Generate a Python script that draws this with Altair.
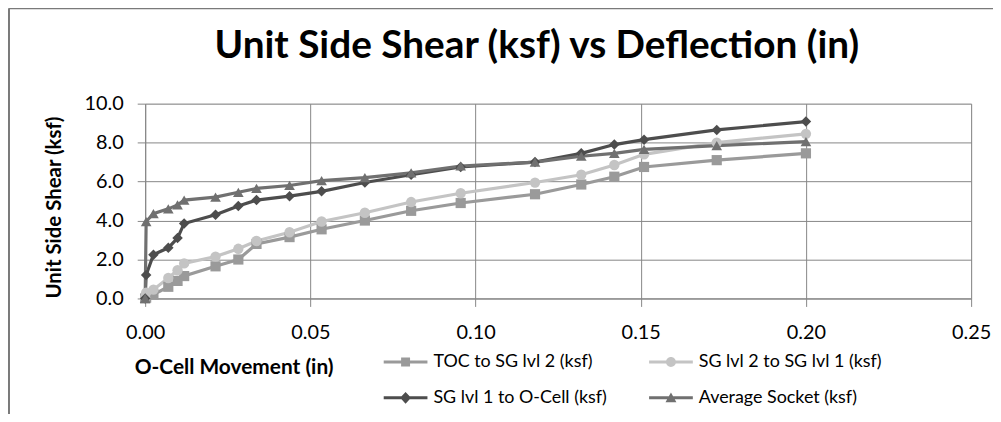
import altair as alt
import pandas as pd

# ---- data ----
movement = [0.0, 0.0003, 0.0025, 0.007, 0.0098, 0.0118, 0.0213, 0.0282, 0.0337, 0.0437,
            0.0534, 0.0665, 0.0805, 0.0955, 0.118, 0.132, 0.142, 0.151, 0.173, 0.200]
toc_sg2 = [0.0, 0.05, 0.2, 0.6, 0.9, 1.15, 1.65, 2.0, 2.8, 3.15,
           3.55, 4.0, 4.5, 4.9, 5.35, 5.85, 6.25, 6.75, 7.1, 7.45]
sg2_sg1 = [0.05, 0.3, 0.45, 1.05, 1.45, 1.8, 2.15, 2.55, 2.95, 3.4,
           3.95, 4.4, 4.95, 5.4, 5.95, 6.35, 6.85, 7.4, 8.0, 8.45]
sg1_ocell = [0.0, 1.2, 2.25, 2.6, 3.1, 3.85, 4.3, 4.75, 5.05, 5.25,
             5.5, 5.95, 6.35, 6.75, 7.0, 7.45, 7.9, 8.15, 8.65, 9.08]
avg_socket = [0.0, 3.95, 4.35, 4.6, 4.8, 5.05, 5.2, 5.45, 5.65, 5.8,
              6.05, 6.2, 6.45, 6.8, 7.0, 7.3, 7.45, 7.65, 7.85, 8.05]

series_names = ["TOC to SG lvl 2 (ksf)", "SG lvl 2 to SG lvl 1 (ksf)",
                "SG lvl 1 to O-Cell (ksf)", "Average Socket (ksf)"]
series_colors = ["#9a9a9a", "#c4c4c4", "#4d4d4d", "#707070"]
series_shapes = ["square", "circle", "diamond", "triangle-up"]
series_sizes = [105, 115, 130, 150]
x_ticks = [0.0, 0.05, 0.10, 0.15, 0.20, 0.25]
y_ticks = [0, 2, 4, 6, 8, 10]
title_text = "Unit Side Shear (ksf) vs Deflection (in)"

rows = []
for name, ys in zip(series_names, [toc_sg2, sg2_sg1, sg1_ocell, avg_socket]):
    for xv, yv in zip(movement, ys):
        rows.append({"series": name, "movement": xv, "shear": yv})
df = pd.DataFrame(rows)

# legend symbols: line segment + marker (unit-square SVG paths)
line_part = "M-4.4,-0.3H4.4V0.3H-4.4Z "
legend_paths = [
    line_part + "M-0.9,-0.9H0.9V0.9H-0.9Z",
    line_part + "M-1,0A1,1,0,1,1,1,0A1,1,0,1,1,-1,0Z",
    line_part + "M0,-1.2L1.1,0L0,1.2L-1.1,0Z",
    line_part + "M0,-1.1L1.1,0.9H-1.1Z",
]

FONT = "Lato"
GRID = "#868686"

leg = alt.Legend(
    title=None, orient="none", legendX=253, legendY=251, columns=2,
    direction="horizontal",
    columnPadding=42, rowPadding=18, labelFont=FONT, labelFontSize=18,
    labelColor="black", labelOffset=19, symbolSize=100, symbolStrokeWidth=0,
    symbolOpacity=1, padding=0, labelLimit=400,
)

color_scale = alt.Scale(domain=series_names, range=series_colors)
color_leg = alt.Color("series:N", sort=series_names, scale=color_scale, legend=leg)
shape_leg = alt.Shape("series:N", sort=series_names,
                      scale=alt.Scale(domain=series_names, range=legend_paths),
                      legend=leg)
color_plain = alt.Color("series:N", sort=series_names, scale=color_scale, legend=None)
shape_plain = alt.Shape("series:N", sort=series_names,
                        scale=alt.Scale(domain=series_names, range=series_shapes),
                        legend=None)
size_plain = alt.Size("series:N", sort=series_names,
                      scale=alt.Scale(domain=series_names, range=series_sizes),
                      legend=None)

xenc = alt.X("movement:Q", scale=alt.Scale(domain=[0, 0.25], nice=False),
             axis=alt.Axis(values=x_ticks, format=".2f", grid=True, gridColor=GRID,
                           gridWidth=1, domainColor=GRID, tickColor=GRID, tickSize=8,
                           labelFont=FONT, labelFontSize=20, labelColor="black",
                           labelPadding=16, labelFlush=False, labelOverlap=False,
                           title="O-Cell Movement (in)", titleFont=FONT,
                           titleFontSize=21, titleFontWeight="bold", titleColor="black",
                           titleX=89, titleY=69, titleAlign="center",
                           titleBaseline="middle"))
yenc = alt.Y("shear:Q", scale=alt.Scale(domain=[0, 10], nice=False),
             axis=alt.Axis(values=y_ticks, format=".1f", grid=True, gridColor=GRID,
                           gridWidth=1, domainColor=GRID, tickColor=GRID, tickSize=8,
                           labelFont=FONT, labelFontSize=20, labelColor="black",
                           labelPadding=14, labelOverlap=False,
                           title="Unit Side Shear (ksf)", titleFont=FONT,
                           titleFontSize=20.5, titleFontWeight="bold", titleColor="black",
                           titleX=-91, titleY=104, titleAlign="center",
                           titleBaseline="middle", titleAngle=270))

base = alt.Chart(df)
lines = base.mark_line(strokeWidth=3.2).encode(
    x=xenc, y=yenc, color=color_plain, detail="series:N",
    order=alt.Order("movement:Q"))
points = base.mark_point(filled=True, opacity=1).encode(
    x=xenc, y=yenc, color=color_plain, shape=shape_plain, size=size_plain)
# legend-only layer (draws no marks: empty after filter)
legend_layer = base.transform_filter("datum.movement < 0").mark_point(
    filled=True, opacity=1).encode(x=xenc, y=yenc, color=color_leg, shape=shape_leg)

one = pd.DataFrame({"label": [title_text]})
border_top = alt.Chart(one).mark_rule(color="#7a7a7a", strokeWidth=2).encode(
    x=alt.value(-137), x2=alt.value(860), y=alt.value(-96))
border_left = alt.Chart(one).mark_rule(color="#7a7a7a", strokeWidth=2).encode(
    x=alt.value(-137), y=alt.value(-96), y2=alt.value(320))
title = alt.Chart(one).mark_text(font=FONT, fontSize=39, fontWeight="bold",
                                 color="black", align="center",
                                 baseline="alphabetic").encode(
    text="label:N", x=alt.value(394), y=alt.value(-46))

chart = alt.layer(border_top, border_left, title, lines, points, legend_layer).resolve_scale(
    color="independent", shape="independent", size="independent"
).resolve_legend(
    color="independent", shape="independent", size="independent"
).properties(
    width=831, height=196,
    autosize=alt.AutoSizeParams(type="none"),
    padding={"left": 138, "top": 95, "right": 22, "bottom": 115},
).configure_view(strokeWidth=0).configure(background="white")

chart.save("out.html", embed_options={"renderer": "svg", "actions": False})
